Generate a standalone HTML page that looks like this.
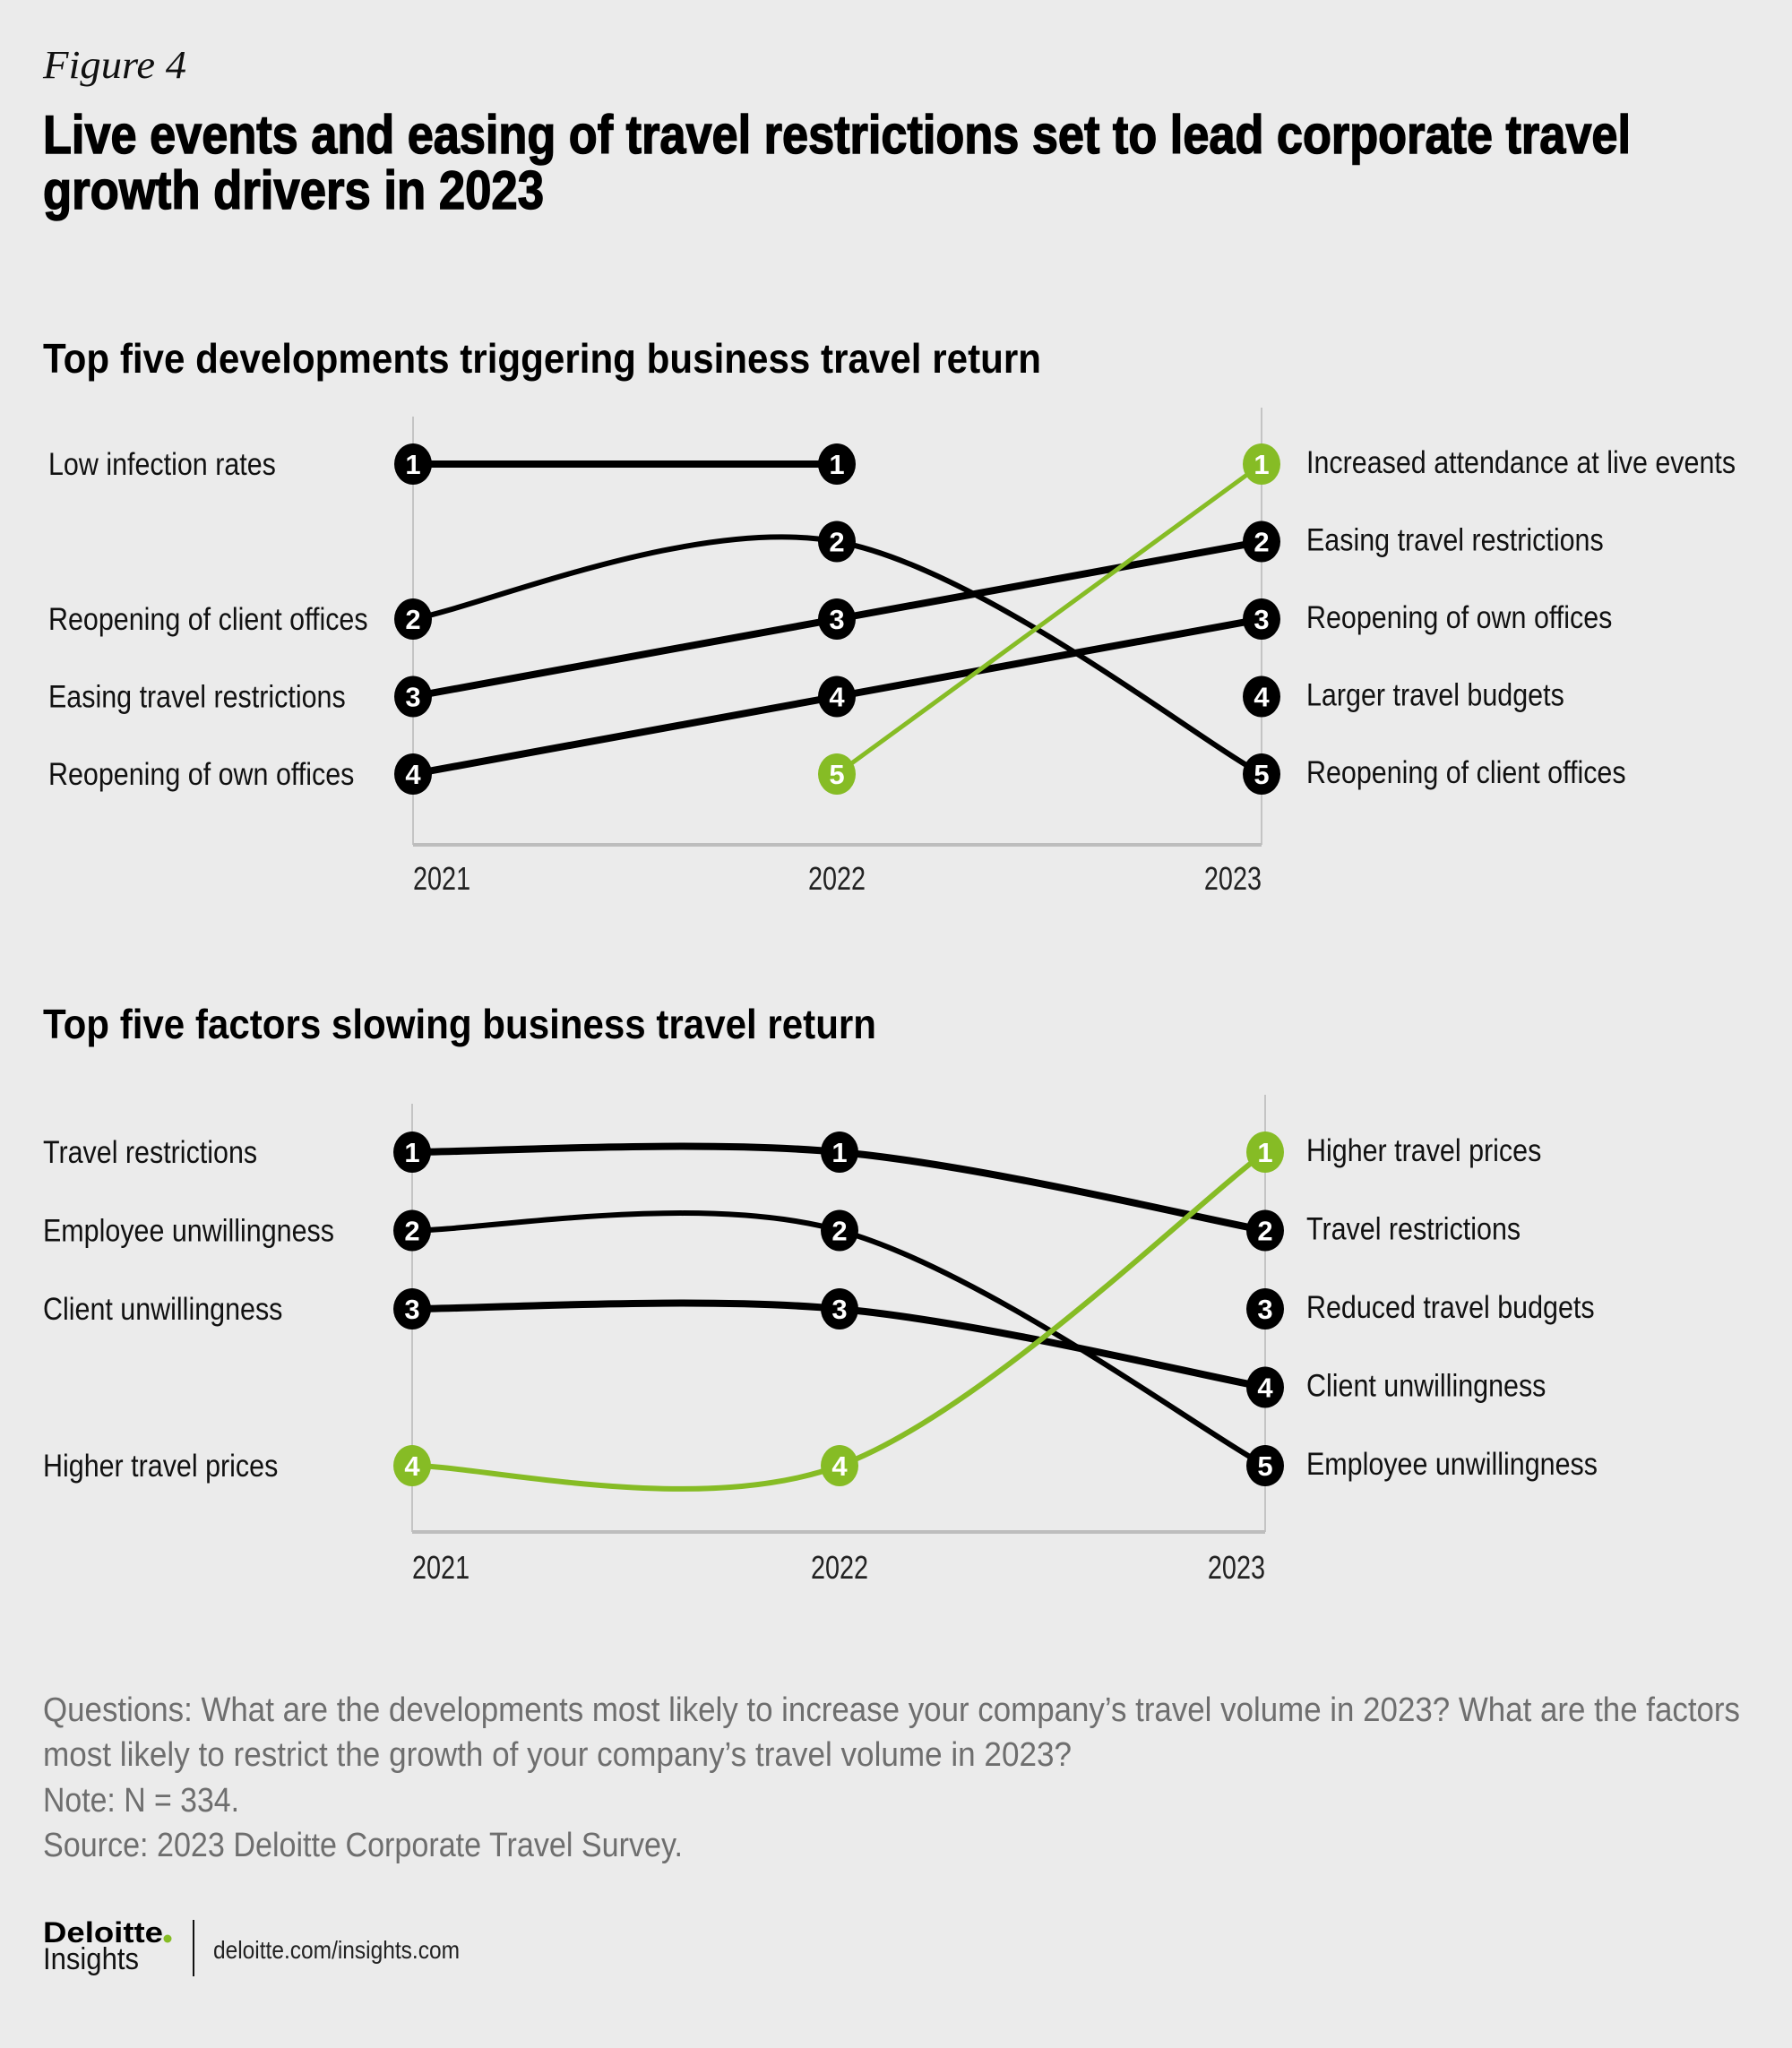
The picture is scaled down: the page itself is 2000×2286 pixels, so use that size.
<!DOCTYPE html>
<html><head><meta charset="utf-8"><style>
html,body{margin:0;padding:0;background:#ebebeb;}
svg{display:block;font-family:"Liberation Sans",sans-serif;}
</style></head><body>
<svg id="root" width="2000" height="2286" viewBox="0 0 2000 2286" xmlns="http://www.w3.org/2000/svg">
<rect x="0" y="0" width="2000" height="2286" fill="#ebebeb"/>
<text x="48" y="87" font-family="Liberation Serif, serif" font-style="italic" font-size="44" fill="#111" textLength="160" lengthAdjust="spacingAndGlyphs">Figure 4</text>
<text x="48" y="171" font-size="60" font-weight="bold" fill="#000" stroke="#000" stroke-width="1.5" textLength="1772" lengthAdjust="spacingAndGlyphs">Live events and easing of travel restrictions set to lead corporate travel</text>
<text x="48" y="233" font-size="60" font-weight="bold" fill="#000" stroke="#000" stroke-width="1.5" textLength="559" lengthAdjust="spacingAndGlyphs">growth drivers in 2023</text>
<text x="48" y="416" font-size="46" font-weight="bold" fill="#000" textLength="1114" lengthAdjust="spacingAndGlyphs">Top five developments triggering business travel return</text>
<text x="48" y="1159" font-size="46" font-weight="bold" fill="#000" textLength="930" lengthAdjust="spacingAndGlyphs">Top five factors slowing business travel return</text>
<g id="c1"></g>
<g id="c2"></g>
<g fill="#6e6e6e" font-size="38">
<text x="48" y="1921" textLength="1894" lengthAdjust="spacingAndGlyphs">Questions: What are the developments most likely to increase your company’s travel volume in 2023? What are the factors</text>
<text x="48" y="1971" textLength="1148" lengthAdjust="spacingAndGlyphs">most likely to restrict the growth of your company’s travel volume in 2023?</text>
<text x="48" y="2022" textLength="219" lengthAdjust="spacingAndGlyphs">Note: N = 334.</text>
<text x="48" y="2072" textLength="714" lengthAdjust="spacingAndGlyphs">Source: 2023 Deloitte Corporate Travel Survey.</text>
</g>
<g>
<text x="48" y="2168" font-size="32" font-weight="bold" fill="#000" textLength="134" lengthAdjust="spacingAndGlyphs">Deloitte</text>
<circle cx="187" cy="2164" r="4.5" fill="#86bc25"/>
<text x="48" y="2198" font-size="34" fill="#111" textLength="107" lengthAdjust="spacingAndGlyphs">Insights</text>
<line x1="216" y1="2143" x2="216" y2="2206" stroke="#111" stroke-width="2"/>
<text x="238" y="2186" font-size="28" fill="#222" textLength="275" lengthAdjust="spacingAndGlyphs">deloitte.com/insights.com</text>
</g>
</svg>
<script>
// ---- Chart 1 data ----
const years = ["2021","2022","2023"];
const c1Names = ["Low infection rates","Reopening of client offices","Easing travel restrictions","Reopening of own offices","Increased attendance at live events","Larger travel budgets"];
const c1Rank2021 = [1,2,3,4,null,null];
const c1Rank2022 = [1,2,3,4,5,null];
const c1Rank2023 = [null,5,2,3,1,4];
const c1Row2021 = [1,3,4,5,null,null];
const c1Row2022 = [1,2,3,4,5,null];
const c1Row2023 = [null,5,2,3,1,4];
const c1Highlight = [false,false,false,false,true,false];
// ---- Chart 2 data ----
const c2Names = ["Travel restrictions","Employee unwillingness","Client unwillingness","Higher travel prices","Reduced travel budgets"];
const c2Rank2021 = [1,2,3,4,null];
const c2Rank2022 = [1,2,3,4,null];
const c2Rank2023 = [2,5,4,1,3];
const c2Row2021 = [1,2,3,5,null];
const c2Row2022 = [1,2,3,5,null];
const c2Row2023 = [2,5,4,1,3];
const c2Highlight = [false,false,false,true,false];

const NS = "http://www.w3.org/2000/svg";
const GREEN = "#86bc25";
function mk(tag, attrs, parent){
  const e = document.createElementNS(NS, tag);
  for (const k in attrs) e.setAttribute(k, attrs[k]);
  parent.appendChild(e);
  return e;
}
function condense(t, f){
  const L = t.getComputedTextLength();
  t.setAttribute('textLength', (L*f).toFixed(1));
  t.setAttribute('lengthAdjust','spacingAndGlyphs');
}
function drawChart(g, cfg){
  const xs = cfg.xs;
  const yOf = r => cfg.rowY[0] + (r-1)*cfg.rowStep;
  const xOf = i => xs[i];
  const a1 = mk('line',{x1:xs[0],y1:cfg.axTop[0],x2:xs[0],y2:cfg.base,stroke:'#c4c4c4','stroke-width':2},g);
  
  
  const a2 = mk('line',{x1:xs[2],y1:cfg.axTop[1],x2:xs[2],y2:cfg.base,stroke:'#c4c4c4','stroke-width':2},g);
  
  
  const ab = mk('line',{x1:xs[0],y1:cfg.base,x2:xs[2],y2:cfg.base,stroke:'#bdbdbd','stroke-width':4},g);
  
  
  years.forEach((y,i)=>{
    const anchor = i===0?'start':(i===1?'middle':'end');
    const t = mk('text',{x:xs[i],y:cfg.yearY,'font-size':36,fill:'#222','text-anchor':anchor},g);
    t.textContent = y;
    
    
    condense(t,0.8);
  });
  const n = cfg.names.length;
  for (let s=0;s<n;s++){
    const pts=[];
    cfg.rows.forEach((arr,i)=>{ if(arr[s]!=null) pts.push([xOf(i), yOf(arr[s])]); });
    if (pts.length<2) continue;
    let d = 'M'+pts[0][0]+','+pts[0][1];
    for (let i=0;i<pts.length-1;i++){
      const p0=pts[Math.max(i-1,0)], p1=pts[i], p2=pts[i+1], p3=pts[Math.min(i+2,pts.length-1)];
      const c1x=p1[0]+(p2[0]-p0[0])/6, c1y=p1[1]+(p2[1]-p0[1])/6;
      const c2x=p2[0]-(p3[0]-p1[0])/6, c2y=p2[1]-(p3[1]-p1[1])/6;
      d += ` C${c1x},${c1y} ${c2x},${c2y} ${p2[0]},${p2[1]}`;
    }
    const p = mk('path',{d:d,fill:'none',stroke:cfg.hl[s]?GREEN:'#000','stroke-width':cfg.widths[s],'stroke-linecap':'round'},g);
    
    
  }
  for (let s=0;s<n;s++){
    cfg.rows.forEach((arr,i)=>{
      if (arr[s]==null) return;
      const cx=xOf(i), cy=yOf(arr[s]);
      const e = mk('ellipse',{cx:cx,cy:cy,rx:21,ry:23,fill:cfg.hl[s]?GREEN:'#000'},g);
      
      
      const t = mk('text',{x:cx,y:cy+11,'font-size':31,'font-weight':'bold',fill:'#fff','text-anchor':'middle'},g);
      t.textContent = cfg.ranks[i][s];
      
      
    });
  }
  for (let s=0;s<n;s++){
    if (cfg.rows[0][s]!=null){
      const t = mk('text',{x:cfg.leftX,y:yOf(cfg.rows[0][s])+12,'font-size':35,fill:'#111'},g);
      t.textContent = cfg.names[s];
      
      
      condense(t,0.87);
    }
    if (cfg.rows[2][s]!=null){
      const t = mk('text',{x:1458,y:yOf(cfg.rows[2][s])+10,'font-size':35,fill:'#111'},g);
      t.textContent = cfg.names[s];
      
      
      condense(t,0.87);
    }
  }
}
drawChart(document.getElementById('c1'),{
  names:c1Names, hl:c1Highlight,
  ranks:[c1Rank2021,c1Rank2022,c1Rank2023],
  rows:[c1Row2021,c1Row2022,c1Row2023],
  widths:[8,6,8,8,5,5],
  xs:[461,934,1408], rowY:[518], rowStep:86.5,
  axTop:[465,455], base:943, yearY:993, leftX:54
});
drawChart(document.getElementById('c2'),{
  names:c2Names, hl:c2Highlight,
  ranks:[c2Rank2021,c2Rank2022,c2Rank2023],
  rows:[c2Row2021,c2Row2022,c2Row2023],
  widths:[8,6,8,6,6],
  xs:[460,937,1412], rowY:[1286], rowStep:87.5,
  axTop:[1232,1222], base:1710, yearY:1762, leftX:48
});
</script>
</body></html>
